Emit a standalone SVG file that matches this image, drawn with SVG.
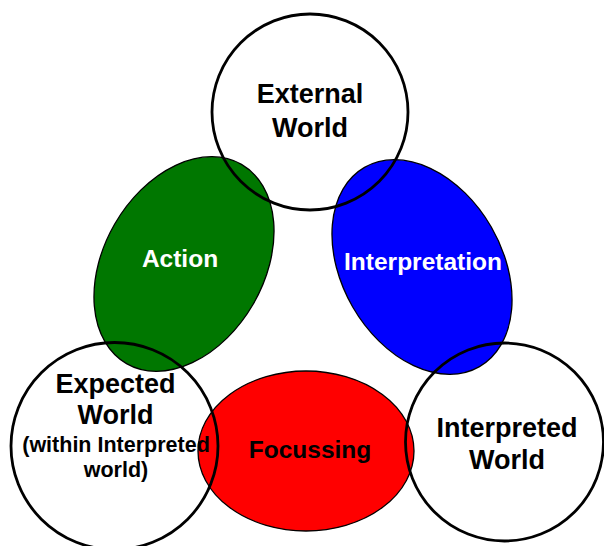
<svg xmlns="http://www.w3.org/2000/svg" width="604" height="546" viewBox="0 0 604 546">
<style>
.ell{stroke:#000;stroke-width:1.3}
.cir{fill:none;stroke:#000;stroke-width:2.8}
text{font-family:"Liberation Sans",Arial,sans-serif;font-weight:bold;text-anchor:middle}
.big{font-size:27px;fill:#000}
.mid{font-size:24.5px}
.small{font-size:21.5px;fill:#000}
</style>
<rect width="604" height="546" fill="#fff"/>
<g id="action">
<ellipse class="ell" cx="184" cy="264" rx="80" ry="115" transform="rotate(30 184 264)" fill="#007700"/>
</g>
<g id="interpretation">
<ellipse class="ell" cx="422" cy="267" rx="80" ry="115" transform="rotate(-30 422 267)" fill="#0000ff"/>
</g>
<g id="focussing">
<ellipse class="ell" cx="306" cy="451" rx="108" ry="80" fill="#ff0000"/>
</g>
<g id="external-world">
<circle class="cir" cx="310" cy="112" r="98"/>
</g>
<g id="expected-world">
<circle class="cir" cx="114.5" cy="446" r="103.5"/>
</g>
<g id="interpreted-world">
<circle class="cir" cx="504.5" cy="442" r="99"/>
</g>
<g id="labels">
<text class="big" x="310" y="103">External</text>
<text class="big" x="310" y="137">World</text>
<text class="mid" x="180" y="267" fill="#fff">Action</text>
<text class="mid" x="423" y="270" fill="#fff">Interpretation</text>
<text class="mid" x="310" y="458" fill="#000">Focussing</text>
<text class="big" x="507" y="437">Interpreted</text>
<text class="big" x="507" y="469">World</text>
<text class="big" x="115.5" y="393">Expected</text>
<text class="big" x="115.5" y="424">World</text>
<text class="small" x="116" y="452">(within Interpreted</text>
<text class="small" x="116" y="477">world)</text>
</g>
<g id="connectors"></g>
</svg>
